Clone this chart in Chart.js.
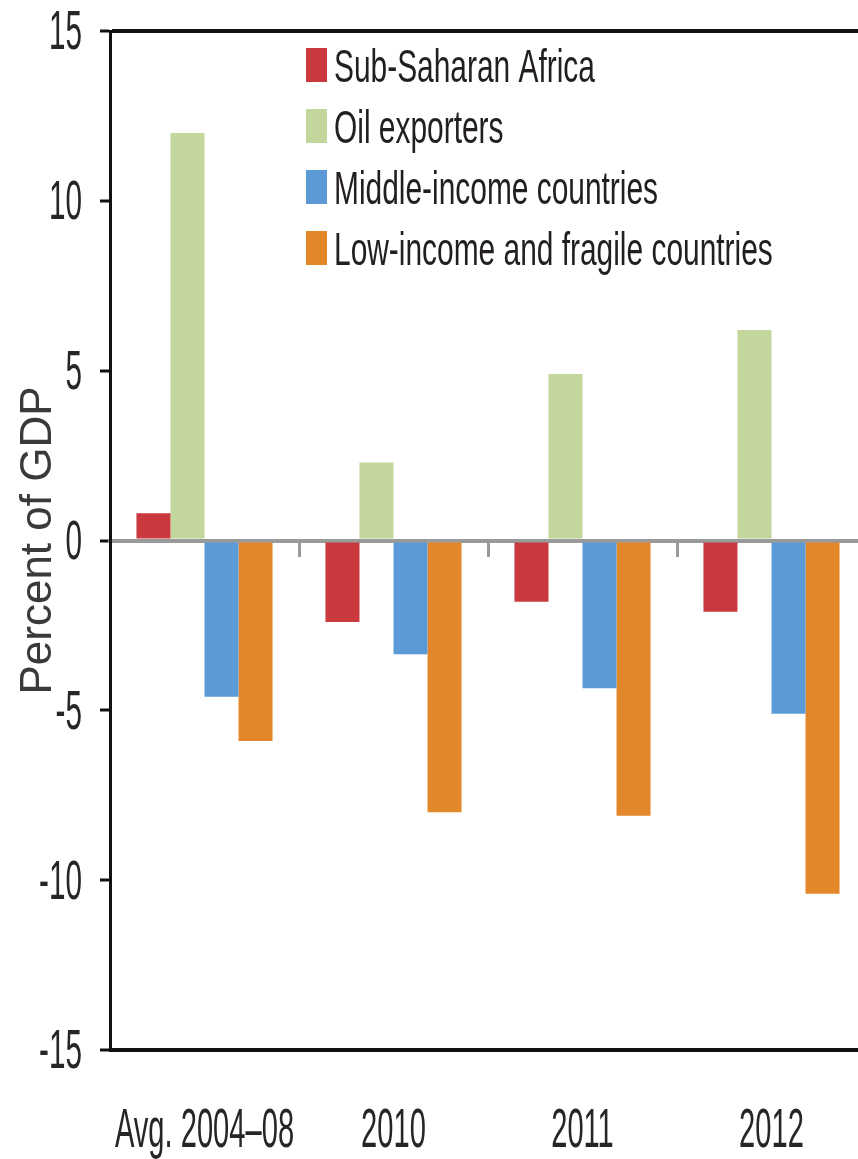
<!DOCTYPE html>
<html>
<head>
<meta charset="utf-8">
<script src="https://cdn.jsdelivr.net/npm/chart.js@4.4.1/dist/chart.umd.min.js"></script>
<style>
  html, body { margin: 0; padding: 0; overflow: hidden; background: #fff; }
</style>
</head>
<body>
<canvas id="gdpChart" width="880" height="1159"></canvas>
<script>
const categories = ["Avg. 2004\u201308", "2010", "2011", "2012"];
const subSaharan = [0.8, -2.4, -1.8, -2.1];
const oilExporters = [12.0, 2.3, 4.9, 6.2];
const middleIncome = [-4.6, -3.35, -4.35, -5.1];
const lowIncome = [-5.9, -8.0, -8.1, -10.4];
const yTicks = [15, 10, 5, 0, -5, -10, -15];

const seriesNames = ["Sub-Saharan Africa", "Oil exporters", "Middle-income countries", "Low-income and fragile countries"];
const seriesColors = ["#C9393D", "#C3D69B", "#5B9AD6", "#E3882A"];

// draw text squeezed sideways, the original uses a condensed face
function squeezed(ctx, text, x, y, align, sx) {
  ctx.save();
  ctx.translate(x, y);
  ctx.scale(sx, 1);
  ctx.textAlign = align;
  ctx.fillText(text, 0, 0);
  ctx.restore();
}

const condensedText = {
  id: "condensedText",
  afterDraw(chart) {
    const ctx = chart.ctx;
    const yScale = chart.scales.y;
    const xScale = chart.scales.x;
    const area = chart.chartArea;

    ctx.save();
    ctx.fillStyle = "#262626";
    ctx.font = "56px 'Liberation Sans'";
    ctx.textBaseline = "middle";
    yTicks.forEach((v) => {
      squeezed(ctx, String(v), area.left - 28, yScale.getPixelForValue(v) + 3, "right", 0.53);
    });

    ctx.textBaseline = "alphabetic";
    categories.forEach((label, i) => {
      squeezed(ctx, label, xScale.getPixelForValue(i), 1147, "center", 0.52);
    });

    // legend
    ctx.font = "46px 'Liberation Sans'";
    chart.data.datasets.forEach((ds, i) => {
      const top = 48 + i * 61;
      ctx.fillStyle = ds.backgroundColor;
      ctx.fillRect(area.left + 196, top, 21, 34);
      ctx.fillStyle = "#231F20";
      squeezed(ctx, ds.label, area.left + 224, top + 34, "left", 0.65);
    });
    ctx.restore();
  },
};

const seriesData = [subSaharan, oilExporters, middleIncome, lowIncome];

const chart = new Chart(document.getElementById("gdpChart"), {
  type: "bar",
  data: {
    labels: categories,
    datasets: seriesData.map((values, i) => ({
      label: seriesNames[i],
      data: values,
      backgroundColor: seriesColors[i],
      borderWidth: 0,
      categoryPercentage: 0.72,
      barPercentage: 1,
    })),
  },
  options: {
    responsive: false,
    animation: false,
    layout: { padding: { top: 31, right: 14, bottom: 0, left: 0 } },
    plugins: {
      legend: { display: false },
      tooltip: { enabled: false },
    },
    scales: {
      x: {
        type: "category",
        offset: true,
        grid: { display: false },
        ticks: { display: false },
        border: { display: false },
        afterFit: (scale) => { scale.height = 109; },
      },
      zeroAxis: {
        axis: "x",
        type: "category",
        position: { y: 0 },
        offset: true,
        z: 1,
        grid: {
          offset: true,
          drawOnChartArea: false,
          color: "#9A9A9A",
          lineWidth: 3,
          tickLength: 14,
        },
        ticks: { display: false },
        border: { color: "#9A9A9A", width: 4 },
      },
      y: {
        min: -15,
        max: 15,
        ticks: { stepSize: 5, display: false },
        grid: {
          color: (c) => (Math.abs(c.tick.value) === 15 ? "#111" : "transparent"),
          lineWidth: 4,
          tickColor: "#111",
          tickWidth: 3,
          tickLength: 10,
        },
        border: { color: "#111", width: 3 },
        title: {
          display: true,
          text: "Percent of GDP",
          color: "#3A3A3A",
          font: { family: "'Liberation Sans'", size: 44 },
          padding: { top: 12, bottom: 0 },
        },
        afterFit: (scale) => { scale.width = 110; },
      },
    },
  },
  plugins: [condensedText],
});
</script>
</body>
</html>
